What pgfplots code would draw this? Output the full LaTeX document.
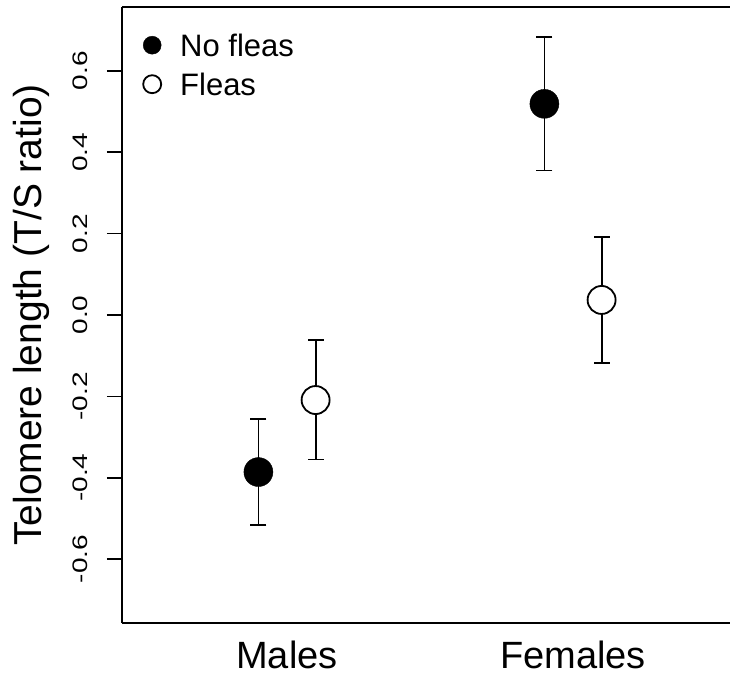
\documentclass[border=0pt]{standalone}
\usepackage{fontspec}
\setmainfont{Liberation Sans}
\usepackage{pgfplots}
\pgfplotsset{compat=1.18}

% group means (T/S ratio)
\pgfplotstableread{
x    y
0.9  -0.386
1.9   0.519
}\nofleas
\pgfplotstableread{
x    y
1.1  -0.209
2.1   0.037
}\fleas

\begin{document}
\begin{tikzpicture}
\begin{axis}[
  clip=false,
  scale only axis,
  width=608pt, height=616pt,
  xmin=0.423, xmax=2.549,
  ymin=-0.757, ymax=0.757,
  axis lines*=left,
  axis line style={black, line width=1.3pt},
  xtick=\empty,
  extra x ticks={1,2}, extra x tick labels={Males,Females},
  extra x tick style={major tick length=0pt,
    xticklabel style={font=\fontsize{38}{40}\selectfont, anchor=base, inner sep=0pt, yshift=-45pt}},
  ytick={-0.6,-0.4,-0.2,0,0.2,0.4,0.6},
  /pgf/number format/.cd, fixed, fixed zerofill, precision=1, assume math mode=true, /pgfplots/.cd,
  tick align=outside,
  major tick length=15pt,
  ytick style={black, line width=1.6pt},
  yticklabel style={font=\fontsize{28}{30}\selectfont, anchor=base, inner sep=0pt, xshift=-19pt, xscale=0.75, rotate=90},
  ylabel={Telomere length (T/S ratio)},
  every axis y label/.style={at={(axis description cs:0,0.5)}, anchor=base, inner sep=0pt, xshift=-80pt, rotate=90, font=\fontsize{39}{41}\selectfont},
  legend style={draw=none, fill=none, at={(axis description cs:0,1)}, anchor=north west,
    xshift=18pt, yshift=-25pt, font=\fontsize{31}{33}\selectfont,
    nodes={inner sep=0pt, text height=22pt, text depth=0pt}, row sep=17pt, column sep=19pt},
  legend cell align=left,
  legend image code/.code={\draw[#1, mark size=9pt] plot coordinates {(0cm,0cm)};},
]
% standard error bars (lower, upper), drawn first so the circles cover them
\addplot[forget plot, black, line width=1.8pt, mark=-, mark size=8pt] coordinates {(0.9,-0.516) (0.9,-0.256)};
\addplot[forget plot, black, line width=1.8pt, mark=-, mark size=8pt] coordinates {(1.1,-0.355) (1.1,-0.062)};
\addplot[forget plot, black, line width=1.8pt, mark=-, mark size=8pt] coordinates {(1.9,0.355) (1.9,0.683)};
\addplot[forget plot, black, line width=1.8pt, mark=-, mark size=8pt] coordinates {(2.1,-0.118) (2.1,0.192)};

\addplot[only marks, mark=*, mark size=14.5pt, draw=black, fill=black]
  table[x=x, y=y] {\nofleas};
\addlegendentry{No fleas}
\addplot[only marks, mark=*, mark size=14pt, draw=black, fill=white, line width=1.8pt]
  table[x=x, y=y] {\fleas};
\addlegendentry{Fleas}

% top side of the box; the right side lies outside the cropped figure
\draw[black, line width=1.3pt] (rel axis cs:0,1) -- (rel axis cs:1,1);
\coordinate (bb1) at ([xshift=-122pt, yshift=-56pt]rel axis cs:0,0);
\coordinate (bb2) at ([yshift=7pt]rel axis cs:1,1);
\end{axis}
\pgfresetboundingbox
\path[use as bounding box] (bb1) rectangle (bb2);
\end{tikzpicture}
\end{document}
